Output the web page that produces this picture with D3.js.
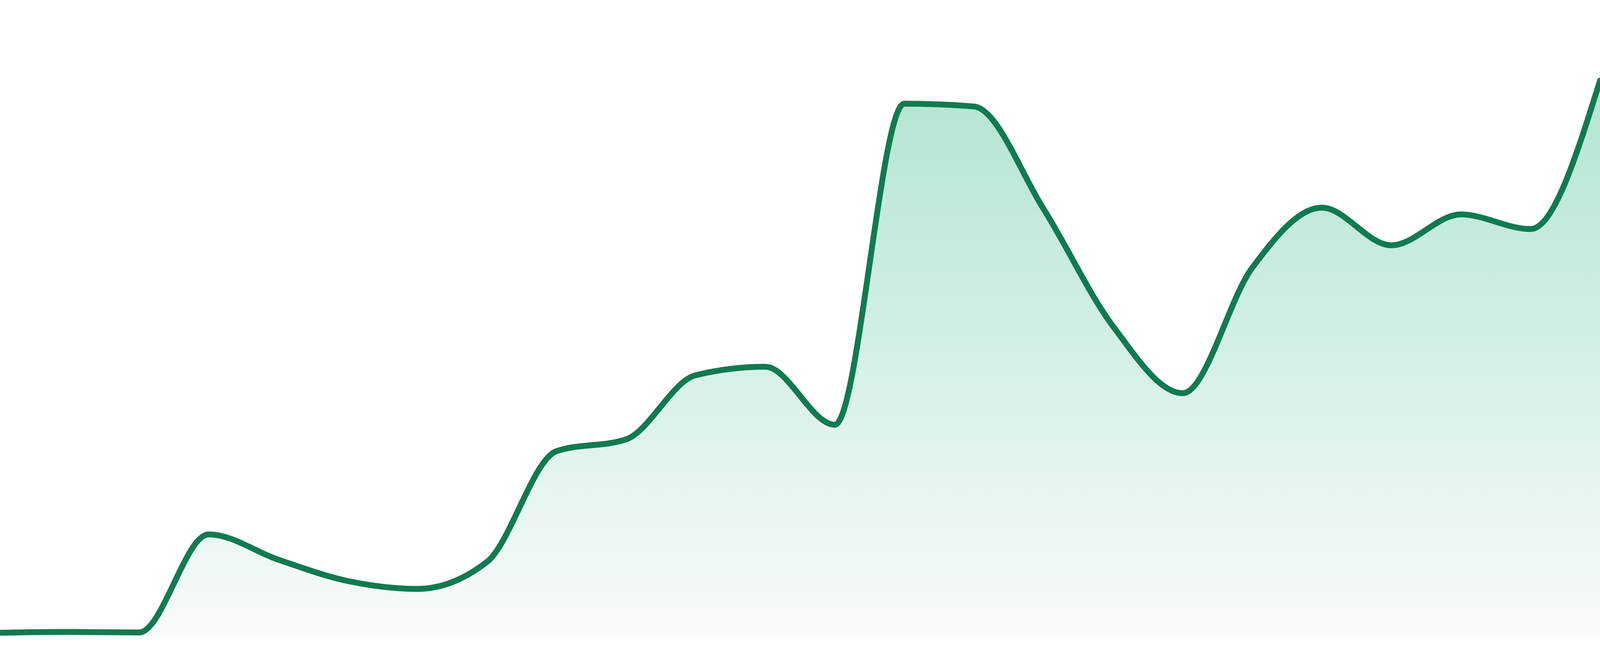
<!DOCTYPE html>
<html>
<head>
<meta charset="utf-8">
<script src="https://cdn.jsdelivr.net/npm/d3@7"></script>
<style>
  html, body { margin: 0; padding: 0; overflow: hidden; background: #fff; }
  svg { display: block; }
</style>
</head>
<body>
<div id="chart"></div>
<script>
/* Sparkline area chart, no axes */

const steps = [0, 1, 2, 3, 4, 5, 6, 7, 8, 9, 10, 11, 12, 13, 14, 15, 16, 17, 18, 19, 20, 21, 22, 23];
const values = [0.8, 0.95, 0.85, 18.3, 13.8, 10.0, 8.6, 13.4, 33.1, 35.2, 46.6, 48.1, 37.8,
                94.9, 94.4, 76.2, 55.3, 43.4, 65.7, 76.4, 69.7, 75.2, 72.6, 99.0];

const data = steps.map((s, i) => ({ step: s, value: values[i] }));

/* fill the whole window, whatever size it really is */
const width = window.innerWidth || 4800;
const height = window.innerHeight || 1680;
const k = height / 1680; /* sizes below were measured on a 1680px tall picture */
const margin = ({ top: 192 * k, right: 0, bottom: 48 * k, left: 0 });

let svg = d3.select("#chart")
            .append("svg")
            .attr("width", width)
            .attr("height", height)
            .attr("viewBox", [0, 0, width, height]);

const x = d3.scaleLinear()
            .domain(d3.extent(steps))
            .range([margin.left, width - margin.right]);

const y = d3.scaleLinear()
            .domain([0, 100])
            .range([height - margin.bottom, margin.top]);

/* soft green fade under the line */
const grad = svg.append("defs")
    .append("linearGradient")
    .attr("id", "fade")
    .attr("x1", 0).attr("y1", 0)
    .attr("x2", 0).attr("y2", 1);

grad.append("stop").attr("offset", "0%").attr("stop-color", "#b2e5d0");
grad.append("stop").attr("offset", "100%").attr("stop-color", "#f9fbfa");

const area = d3.area()
    .curve(d3.curveMonotoneX)
    .x(d => x(d.step))
    .y0(y(0))
    .y1(d => y(d.value));

const line = d3.line()
    .curve(d3.curveMonotoneX)
    .x(d => x(d.step))
    .y(d => y(d.value));

svg.append("path")
    .datum(data)
    .attr("fill", "url(#fade)")
    .attr("d", area);

svg.append("path")
    .datum(data)
    .attr("fill", "none")
    .attr("stroke", "#107a50")
    .attr("stroke-width", 15 * k)
    .attr("stroke-linecap", "round")
    .attr("stroke-linejoin", "round")
    .attr("d", line);
</script>
</body>
</html>
